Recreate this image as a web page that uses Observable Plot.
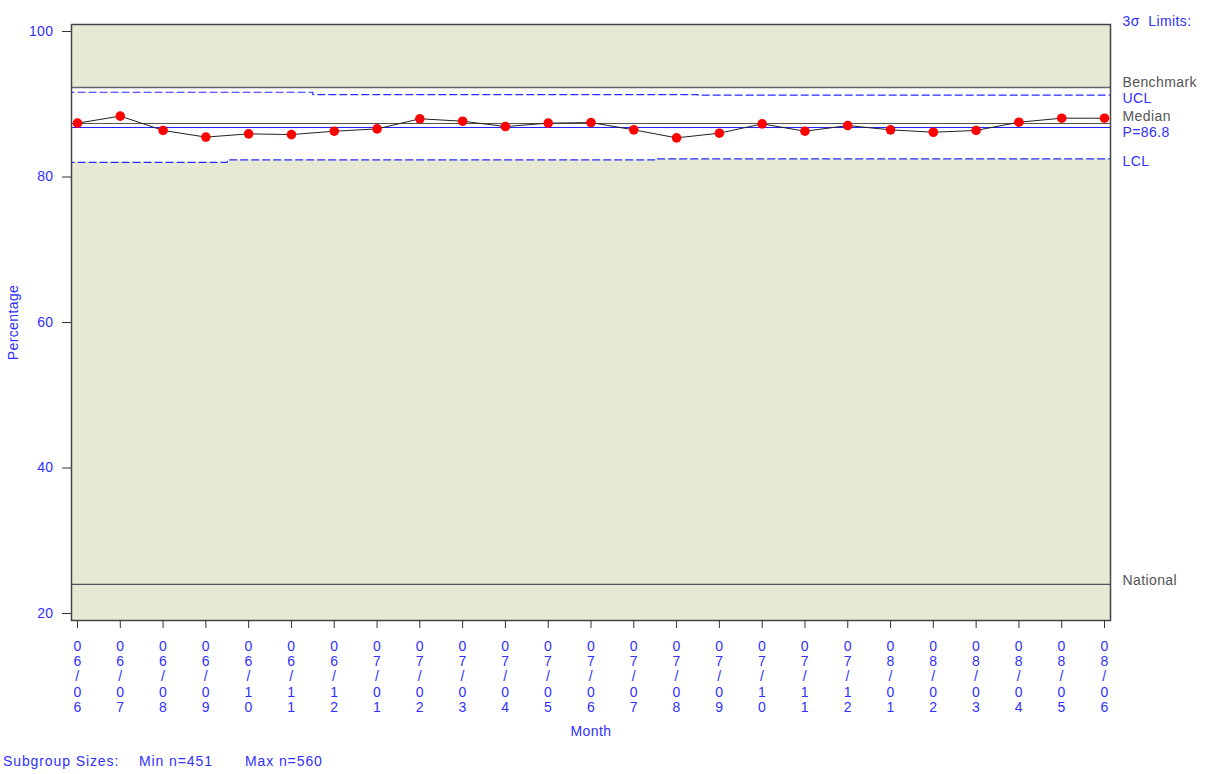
<!DOCTYPE html>
<html>
<head>
<meta charset="utf-8">
<script src="https://cdn.jsdelivr.net/npm/d3@7"></script>
<script src="https://cdn.jsdelivr.net/npm/@observablehq/plot@0.6"></script>
<style>
  html, body { margin: 0; padding: 0; background: #fff; }
  body { width: 1206px; height: 774px; position: relative; overflow: hidden;
         font-family: "Liberation Sans", Arial, sans-serif; }
  #chart svg { display: block; }
  #caption { position: absolute; left: 0; top: 753px; width: 1206px; height: 18px;
             font-size: 14px; color: #3030ff; letter-spacing: 0.9px; }
  #caption span { position: absolute; top: 0; white-space: pre; }
</style>
</head>
<body>
<div id="chart"></div>
<div id="caption"><span style="left:3px">Subgroup Sizes:</span><span style="left:139px">Min n=451</span><span style="left:245px">Max n=560</span></div>
<script>
// ---- data ----
const months = ["06/06","06/07","06/08","06/09","06/10","06/11","06/12","07/01","07/02","07/03",
                "07/04","07/05","07/06","07/07","07/08","07/09","07/10","07/11","07/12","08/01",
                "08/02","08/03","08/04","08/05","08/06"];
const percentage = [87.4, 88.37, 86.4, 85.48, 85.93, 85.83, 86.29, 86.61, 88.0, 87.67,
                    86.93, 87.4, 87.48, 86.48, 85.38, 86.02, 87.3, 86.29, 87.07, 86.48,
                    86.15, 86.4, 87.53, 88.08, 88.08];
const ucl = [91.65, 91.65, 91.65, 91.65, 91.65, 91.65, 91.33, 91.33, 91.33, 91.33,
             91.33, 91.33, 91.33, 91.33, 91.33, 91.25, 91.25, 91.25, 91.25, 91.25,
             91.25, 91.25, 91.25, 91.25, 91.25];
const lcl = [82.02, 82.02, 82.02, 82.02, 82.35, 82.35, 82.35, 82.35, 82.35, 82.35,
             82.35, 82.35, 82.35, 82.35, 82.49, 82.49, 82.49, 82.49, 82.49, 82.49,
             82.49, 82.49, 82.49, 82.49, 82.49];
const benchmark = 92.3;
const median = 87.35;
const centerP = 86.8;
const national = 24;
const yTicks = [20, 40, 60, 80, 100];

// ---- derived tables ----
const pts = percentage.map((v, i) => ({i, v}));
const steps = [];
months.forEach((m, i) => {
  steps.push({x: i - 0.5, ucl: ucl[i], lcl: lcl[i]});
  steps.push({x: i + 0.5, ucl: ucl[i], lcl: lcl[i]});
});

const BLUE = "#3030ff";
const GREY = "#555";
const FONT = "\"Liberation Sans\", Arial, sans-serif";

const chart = Plot.plot({
  width: 1206,
  height: 752,
  marginLeft: 71,
  marginRight: 96,
  marginTop: 24,
  marginBottom: 132,
  style: {fontFamily: FONT, fontSize: "14px", background: "#fff", overflow: "visible", letterSpacing: "0.4px"},
  x: {type: "linear", domain: [-0.14, 24.14], axis: null},
  y: {domain: [19.04, 100.96], axis: null},
  marks: [
    Plot.frame({fill: "#e6ead5", stroke: null}),
    Plot.areaY(steps, {x: "x", y1: "lcl", y2: () => benchmark, fill: "#ffffff", clip: true}),
    Plot.ruleY([benchmark], {stroke: "#666", strokeWidth: 1.5}),
    Plot.ruleY([national], {stroke: GREY, strokeWidth: 1.2}),
    Plot.ruleY([median], {stroke: GREY, strokeWidth: 1.2}),
    Plot.ruleY([centerP], {stroke: "#2020ff", strokeWidth: 1}),
    Plot.line(steps, {x: "x", y: "ucl", stroke: "#2a2aff", strokeWidth: 1.2, strokeDasharray: "7,4", clip: true}),
    Plot.line(steps, {x: "x", y: "lcl", stroke: "#2a2aff", strokeWidth: 1.2, strokeDasharray: "7,4", clip: true}),
    Plot.line(pts, {x: "i", y: "v", stroke: "#222", strokeWidth: 1}),
    Plot.dot(pts, {x: "i", y: "v", r: 4.8, fill: "#ff0000", stroke: null}),
    Plot.frame({stroke: "#444", strokeWidth: 1.5}),
    Plot.axisY({ticks: yTicks, tickSize: 9, tickPadding: 9, stroke: "#333", fill: BLUE, fontSize: 14, label: null}),
    Plot.axisX({ticks: d3.range(months.length), tickFormat: i => months[i].split("").join("\n"),
                tickSize: 8, tickPadding: 12, lineHeight: 1.08, stroke: "#333", fill: BLUE, fontSize: 14, label: null}),
    Plot.text(["Month"], {frameAnchor: "bottom", dy: 115, fill: BLUE, fontSize: 14}),
    Plot.text(["Percentage"], {frameAnchor: "left", dx: -58, rotate: -90, textAnchor: "middle", fill: BLUE, fontSize: 14}),
    // right side labels
    Plot.text(["3\u03c3  Limits:"], {frameAnchor: "top-right", dx: 12, dy: -8, textAnchor: "start", fill: BLUE, fontSize: 14}),
    Plot.text(["Benchmark"], {x: () => 24.14, y: () => benchmark, dx: 12, dy: -5, textAnchor: "start", fill: "#555", fontSize: 14}),
    Plot.text(["UCL"], {x: () => 24.14, y: () => ucl[ucl.length - 1], dx: 12, dy: 3, textAnchor: "start", fill: BLUE, fontSize: 14}),
    Plot.text(["Median"], {x: () => 24.14, y: () => median, dx: 12, dy: -7, textAnchor: "start", fill: "#555", fontSize: 14}),
    Plot.text([`P=${centerP}`], {x: () => 24.14, y: () => centerP, dx: 12, dy: 5, textAnchor: "start", fill: BLUE, fontSize: 14}),
    Plot.text(["LCL"], {x: () => 24.14, y: () => lcl[lcl.length - 1], dx: 12, dy: 3, textAnchor: "start", fill: BLUE, fontSize: 14}),
    Plot.text(["National"], {x: () => 24.14, y: () => national, dx: 12, dy: -4, textAnchor: "start", fill: "#555", fontSize: 14})
  ]
});
document.getElementById("chart").appendChild(chart);
</script>
</body>
</html>
